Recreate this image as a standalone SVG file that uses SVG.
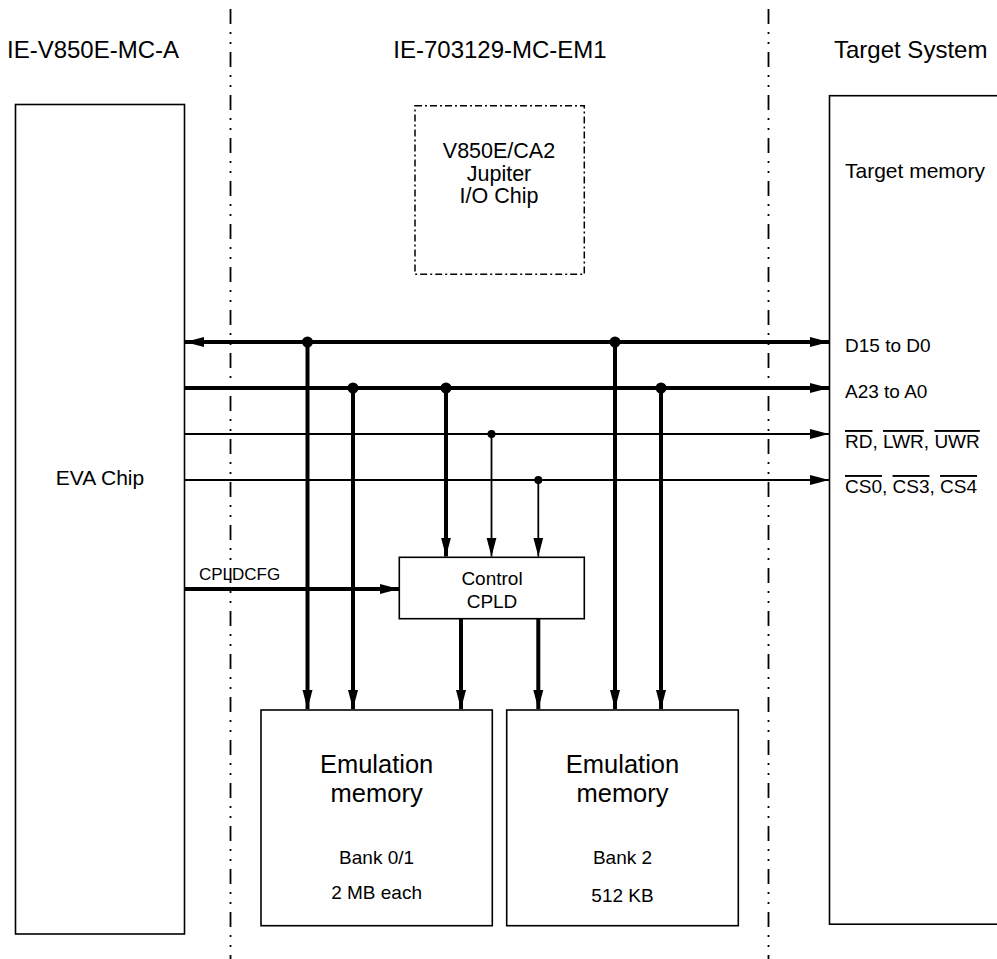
<svg xmlns="http://www.w3.org/2000/svg" width="997" height="959" viewBox="0 0 997 959">
<style>
text{font-family:"Liberation Sans",Arial,sans-serif;fill:#000}
.hdr{font-size:24px}
.lbl{font-size:21px}
.sm{font-size:19px}
.big{font-size:25.5px}
.box{fill:#fff;stroke:#000;stroke-width:1.6}
.div{stroke:#000;stroke-width:1.8;stroke-dasharray:15,8,2,8,2,8;fill:none}
.dbox{fill:none;stroke:#000;stroke-width:1.5;stroke-dasharray:7,3,2,3}
.thick{stroke:#000;stroke-width:4;fill:none}
.thin{stroke:#000;stroke-width:1.8;fill:none}
.ol{text-decoration:overline}
</style>
<defs>
<marker id="ah" markerUnits="userSpaceOnUse" markerWidth="20" markerHeight="11" refX="19" refY="5.5" orient="auto-start-reverse">
<path d="M0,0.5 L19,5.5 L0,10.5 Z" fill="#000"/>
</marker>
</defs>
<rect width="997" height="959" fill="#fff"/>
<g id="dividers">
<line class="div" x1="230.5" y1="9" x2="230.5" y2="959"/>
<line class="div" x1="768.5" y1="9" x2="768.5" y2="959"/>
</g>
<g id="headers">
<text class="hdr" x="93" y="58" text-anchor="middle">IE-V850E-MC-A</text>
<text class="hdr" x="500" y="58" text-anchor="middle">IE-703129-MC-EM1</text>
<text class="hdr" x="834" y="58">Target System</text>
</g>
<g id="eva">
<rect class="box" x="15.5" y="104.5" width="169" height="829.5"/>
<text class="lbl" x="100" y="485" text-anchor="middle">EVA Chip</text>
</g>
<g id="target">
<rect class="box" x="829.5" y="95.7" width="180" height="828.5"/>
<text class="lbl" x="845" y="178">Target memory</text>
<text class="sm" x="845" y="352">D15 to D0</text>
<text class="sm" x="845" y="398">A23 to A0</text>
<text class="sm" x="845" y="448"><tspan class="ol">RD</tspan>, <tspan class="ol">LWR</tspan>, <tspan class="ol">UWR</tspan></text>
<text class="sm" x="845" y="493"><tspan class="ol">CS0</tspan>, <tspan class="ol">CS3</tspan>, <tspan class="ol">CS4</tspan></text>
</g>
<g id="jupiter">
<rect class="dbox" x="415" y="105.7" width="169.3" height="168.6"/>
<text class="lbl" x="499" y="158" text-anchor="middle" style="font-size:21.5px">V850E/CA2</text>
<text class="lbl" x="499" y="181" text-anchor="middle" style="font-size:21.5px">Jupiter</text>
<text class="lbl" x="499" y="203" text-anchor="middle" style="font-size:21.5px">I/O Chip</text>
</g>
<g id="cpld">
<rect class="box" x="399.3" y="557.3" width="185" height="61.4"/>
<text class="sm" x="492" y="585" text-anchor="middle">Control</text>
<text class="sm" x="492" y="608" text-anchor="middle">CPLD</text>
</g>
<g id="mem1">
<rect class="box" x="261" y="710" width="231.3" height="215.7"/>
<text class="big" x="376.6" y="773" text-anchor="middle">Emulation</text>
<text class="big" x="376.6" y="802" text-anchor="middle">memory</text>
<text class="sm" x="376.6" y="864" text-anchor="middle">Bank 0/1</text>
<text class="sm" x="376.6" y="899" text-anchor="middle">2 MB each</text>
</g>
<g id="mem2">
<rect class="box" x="506.7" y="710" width="231.6" height="215.7"/>
<text class="big" x="622.5" y="773" text-anchor="middle">Emulation</text>
<text class="big" x="622.5" y="802" text-anchor="middle">memory</text>
<text class="sm" x="622.5" y="864" text-anchor="middle">Bank 2</text>
<text class="sm" x="622.5" y="902" text-anchor="middle">512 KB</text>
</g>
<g id="connectors">
<line class="thick" x1="185" y1="342" x2="829" y2="342" marker-start="url(#ah)" marker-end="url(#ah)"/>
<line class="thick" x1="185" y1="388" x2="829" y2="388" marker-end="url(#ah)"/>
<line class="thin" x1="185" y1="434" x2="829" y2="434" marker-end="url(#ah)"/>
<line class="thin" x1="185" y1="480" x2="829" y2="480" marker-end="url(#ah)"/>
<line class="thick" x1="185" y1="589" x2="399" y2="589" marker-end="url(#ah)"/>
<text x="199" y="580" style="font-size:17px">CPLDCFG</text>
<line class="thick" x1="307.5" y1="342" x2="307.5" y2="709" marker-end="url(#ah)"/>
<line class="thick" x1="353" y1="388" x2="353" y2="709" marker-end="url(#ah)"/>
<line class="thick" x1="446" y1="388" x2="446" y2="556.5" marker-end="url(#ah)"/>
<line class="thin" x1="491.5" y1="434" x2="491.5" y2="556.5" marker-end="url(#ah)"/>
<line class="thin" x1="538.3" y1="480" x2="538.3" y2="556.5" marker-end="url(#ah)"/>
<line class="thick" x1="461" y1="619" x2="461" y2="709" marker-end="url(#ah)"/>
<line class="thick" x1="538.3" y1="619" x2="538.3" y2="709" marker-end="url(#ah)"/>
<line class="thick" x1="615" y1="342" x2="615" y2="709" marker-end="url(#ah)"/>
<line class="thick" x1="661" y1="388" x2="661" y2="709" marker-end="url(#ah)"/>
<circle cx="307.5" cy="342" r="5.5"/>
<circle cx="615" cy="342" r="5.5"/>
<circle cx="353" cy="388" r="5.5"/>
<circle cx="446" cy="388" r="5.5"/>
<circle cx="661" cy="388" r="5.5"/>
<circle cx="491.5" cy="434" r="4"/>
<circle cx="538.3" cy="480" r="4"/>
</g>
</svg>
